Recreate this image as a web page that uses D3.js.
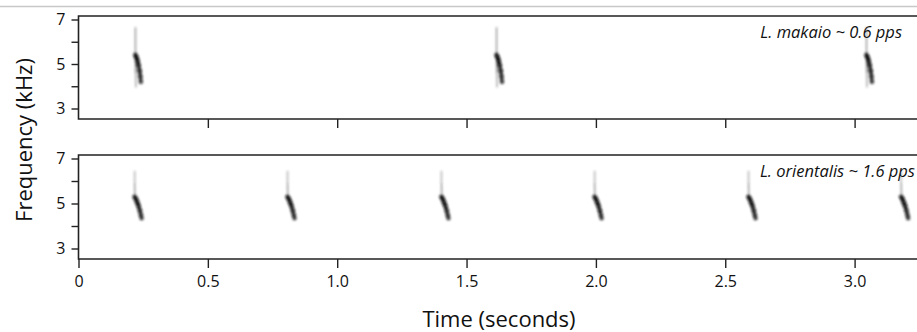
<!DOCTYPE html>
<html>
<head>
<meta charset="utf-8">
<script src="https://cdn.jsdelivr.net/npm/d3@7"></script>
<style>
  body { margin:0; background:#fff; }
  text { font-family: "Open Sans", "Noto Sans", sans-serif; fill:#111; }
</style>
</head>
<body>
<div id="chart"></div>
<script>
// tick values
var timeTicks = [0, 0.5, 1.0, 1.5, 2.0, 2.5, 3.0];
var freqTicks = [3, 4, 5, 6, 7];
var freqLabels = [3, 5, 7];

// call onsets (seconds)
var makaioOnsets = [0.220, 1.616, 3.046];
var orientalisOnsets = [0.217, 0.808, 1.403, 1.995, 2.590, 3.180];

// call shape: [time offset (s), frequency (kHz), amplitude 0..1]
var makaioStem = [[0, 6.65, 0.35], [0, 5.6, 0.6], [0.001, 4.6, 0.55], [0.002, 3.95, 0.25]];
var makaioBody = [[0.000, 5.4, 0.75], [0.004, 5.3, 1], [0.008, 5.15, 1], [0.012, 4.95, 0.95], [0.016, 4.7, 0.85], [0.019, 4.45, 0.65], [0.021, 4.2, 0.4]];
var orientalisStem = [[0, 6.45, 0.3], [0, 5.9, 0.4], [0.001, 5.4, 0.55]];
var orientalisBody = [[0.000, 5.3, 0.7], [0.005, 5.2, 1], [0.010, 5.05, 1], [0.015, 4.9, 0.95], [0.020, 4.7, 0.85], [0.024, 4.5, 0.6], [0.027, 4.35, 0.35]];

var panels = [
    { label: "L. makaio ~ 0.6 pps", onsets: makaioOnsets, stem: makaioStem, body: makaioBody, top: 16, bottom: 119, xticks: timeTicks.slice(1), showLabels: false, labelX: 902 },
    { label: "L. orientalis ~ 1.6 pps", onsets: orientalisOnsets, stem: orientalisStem, body: orientalisBody, top: 155, bottom: 259, xticks: timeTicks, showLabels: true, labelX: 915 }
];

var W = 917, H = 332;
var left = 78.5;

var svg = d3.select("#chart").append("svg")
    .attr("width", W)
    .attr("height", H);

var defs = svg.append("defs");
defs.append("filter").attr("id", "soft")
    .attr("x", "-50%").attr("y", "-50%").attr("width", "200%").attr("height", "200%")
    .append("feGaussianBlur").attr("stdDeviation", 0.9);

// thin grey rule at the very top
svg.append("line")
    .attr("x1", 0).attr("x2", W).attr("y1", 6.5).attr("y2", 6.5)
    .attr("stroke", "#c8c8c8").attr("stroke-width", 1.5);

var x = d3.scaleLinear()
    .domain([0, 3.25])
    .range([left, left + 3.25 * 258.7]);

var amp = d3.scaleLinear().domain([0, 1]).range([0, 1]);

panels.forEach(function(p, pi){
    var y = d3.scaleLinear()
        .domain([7, 3])
        .range([p.top + 3.5, p.bottom - 10.5]);

    var g = svg.append("g");

    defs.append("clipPath").attr("id", "clip" + pi)
        .append("rect")
        .attr("x", left).attr("y", p.top)
        .attr("width", W - left).attr("height", p.bottom - p.top);

    var clipG = g.append("g").attr("clip-path", "url(#clip" + pi + ")");

    p.onsets.forEach(function(t0){
        var line = d3.line()
            .x(function(d){ return x(t0 + d[0]); })
            .y(function(d){ return y(d[1]); })
            .curve(d3.curveCatmullRom);

        var call = clipG.append("g").attr("filter", "url(#soft)");

        // faint stem
        call.selectAll(".stem")
            .data(d3.pairs(p.stem))
            .enter().append("path")
            .attr("class", "stem")
            .attr("d", function(d){ return line(d); })
            .attr("fill", "none")
            .attr("stroke", "#333")
            .attr("stroke-width", 1.5)
            .attr("opacity", function(d){ return amp((d[0][2] + d[1][2]) / 2); });

        // body of the pulse
        call.append("path")
            .attr("d", line(p.body))
            .attr("fill", "none")
            .attr("stroke", "#1c1c1c")
            .attr("stroke-width", 3.8)
            .attr("stroke-linecap", "round")
            .attr("opacity", 0.8);

        call.selectAll(".core")
            .data(p.body)
            .enter().append("circle")
            .attr("class", "core")
            .attr("cx", function(d){ return x(t0 + d[0]); })
            .attr("cy", function(d){ return y(d[1]); })
            .attr("r", 2.6)
            .attr("fill", "#111")
            .attr("opacity", function(d){ return amp(d[2]) * 0.7; });
    });

    // frame: top, left, bottom
    g.append("path")
        .attr("d", "M" + W + "," + p.top + "H" + left + "V" + p.bottom + "H" + W)
        .attr("fill", "none")
        .attr("stroke", "#222")
        .attr("stroke-width", 1.6);

    // y axis ticks
    var yAxis = d3.axisLeft(y)
        .tickValues(freqTicks)
        .tickSize(7)
        .tickPadding(6)
        .tickFormat(function(d){ return freqLabels.indexOf(d) >= 0 ? d : ""; });

    var ya = g.append("g")
        .attr("transform", "translate(" + left + ",0)")
        .call(yAxis);
    ya.select(".domain").remove();
    ya.selectAll("line").attr("stroke", "#222").attr("stroke-width", 1.4);
    ya.selectAll("text").attr("font-size", 16).attr("fill", "#111")
        .style("font-family", "'Open Sans', sans-serif");

    // x axis ticks under each panel
    var xAxis = d3.axisBottom(x)
        .tickValues(p.xticks)
        .tickSize(9)
        .tickPadding(8)
        .tickFormat(function(d){ return p.showLabels ? (d === 0 ? "0" : d3.format(".1f")(d)) : ""; });

    var xa = g.append("g")
        .attr("transform", "translate(0," + p.bottom + ")")
        .call(xAxis);
    xa.select(".domain").remove();
    xa.selectAll("line").attr("stroke", "#222").attr("stroke-width", 1.4);
    xa.selectAll("text").attr("font-size", 16).attr("fill", "#111")
        .style("font-family", "'Open Sans', sans-serif");

    // species label
    g.append("text")
        .attr("x", p.labelX)
        .attr("y", p.top + 22)
        .attr("text-anchor", "end")
        .attr("font-size", 16.5)
        .attr("font-style", "italic")
        .text(p.label);
});

svg.append("text")
    .attr("x", 499)
    .attr("y", 327)
    .attr("text-anchor", "middle")
    .attr("font-size", 22)
    .text("Time (seconds)");

svg.append("text")
    .attr("transform", "translate(32,140) rotate(-90)")
    .attr("text-anchor", "middle")
    .attr("font-size", 22)
    .text("Frequency (kHz)");
</script>
</body>
</html>
